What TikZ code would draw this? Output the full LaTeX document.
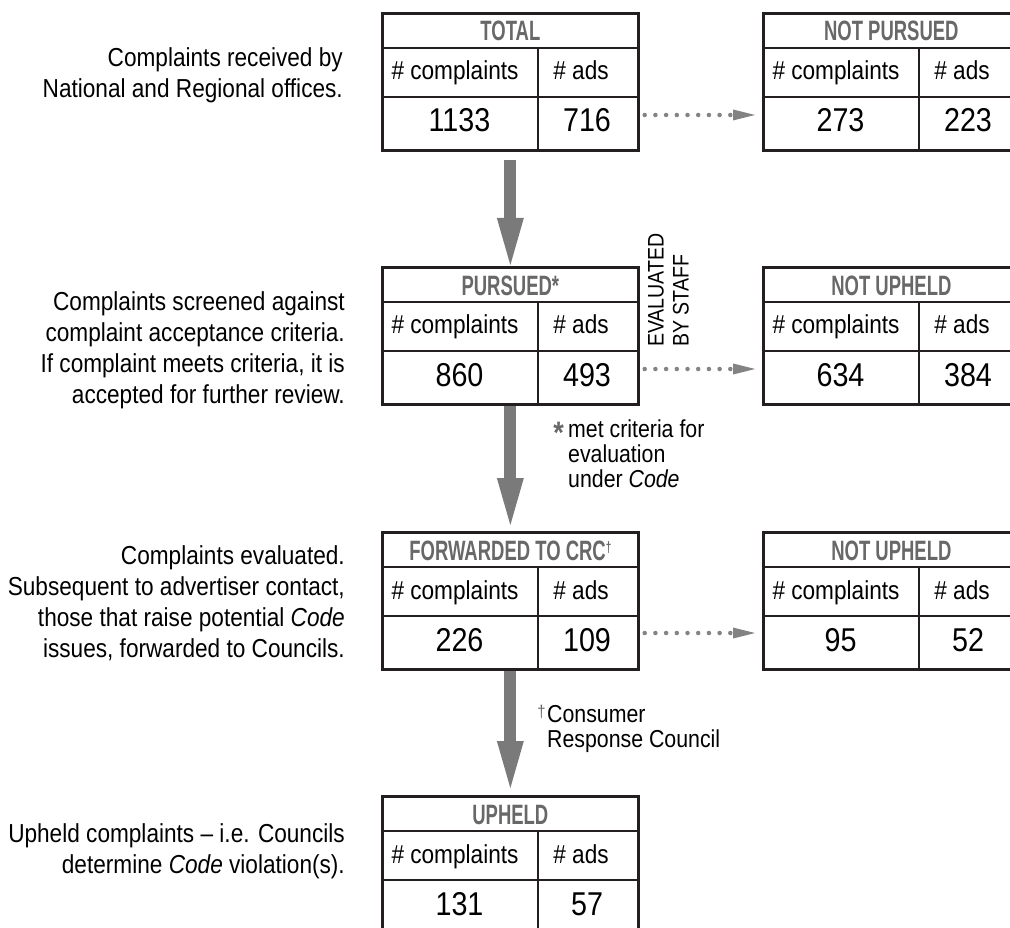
\documentclass[tikz,border=0pt]{standalone}
\usepackage{fontspec}
\setmainfont{Liberation Sans}[FakeStretch=0.87]
\newfontfamily\hdrfont{Liberation Sans}[FakeStretch=0.66]
\usetikzlibrary{arrows.meta}
\definecolor{boxline}{HTML}{231F20}
\definecolor{hdrgray}{HTML}{686868}
\definecolor{arrgray}{HTML}{7A7A7A}
\definecolor{dotgray}{HTML}{838383}
\tikzset{
  tablebox/.style={draw=boxline, line width=2.7pt, minimum width=256pt, minimum height=137pt, inner sep=0pt, anchor=north west},
  tableline/.style={draw=boxline, line width=2.7pt},
  hdr/.style={font=\hdrfont\bfseries\fontsize{28}{28}\selectfont, text=hdrgray, anchor=base, inner sep=0pt},
  lbl/.style={font=\fontsize{26}{26}\selectfont, anchor=base, inner sep=0pt},
  num/.style={font=\fontsize{33}{33}\selectfont, anchor=base, inner sep=0pt},
  bigarrow/.style={draw=arrgray, line width=12pt, -{Triangle[length=47pt, width=27pt, line width=0pt]}},
  dotarrow/.style={draw=dotgray, line width=4.5pt, line cap=round, dash pattern=on 0pt off 10.7pt, shorten <=5pt, shorten >=7pt, -{Triangle[length=22pt, width=11pt, line width=0pt]}},
  sidetext/.style={font=\fontsize{26}{31}\selectfont, align=right, anchor=north east, inner sep=0pt},
  fntext/.style={font=\fontsize{24.5}{25}\selectfont, align=left, anchor=north west, inner sep=0pt},
  fnmark/.style={text=hdrgray, anchor=base, inner sep=0pt},
  vtext/.style={font=\fontsize{22.5}{25}\selectfont, align=left, rotate=90, anchor=north west, inner sep=0pt}
}
\newcommand\flowtable[6]{%
  \node[tablebox] (#1) at (#2,#3) {};
  \draw[tableline] ([yshift=-36pt]#1.north west) -- ([yshift=-36pt]#1.north east);
  \draw[tableline] ([yshift=-85pt]#1.north west) -- ([yshift=-85pt]#1.north east);
  \draw[tableline] ([xshift=157pt,yshift=-36pt]#1.north west) -- ([xshift=157pt]#1.south west);
  \node[hdr] (#1-h) at ([yshift=-29pt]#1.north) {#4};
  \node[lbl] (#1-l1) at ([xshift=74pt,yshift=-68pt]#1.north west) {\# complaints};
  \node[lbl] (#1-l2) at ([xshift=200pt,yshift=-68pt]#1.north west) {\# ads};
  \node[num] (#1-n1) at ([xshift=78.5pt,yshift=-120pt]#1.north west) {#5};
  \node[num] (#1-n2) at ([xshift=206pt,yshift=-120pt]#1.north west) {#6};
}
\begin{document}
\begin{tikzpicture}[x=1pt,y=-1pt]
\useasboundingbox (0,0) rectangle (1010,928);
\clip (0,0) rectangle (1010,928);
\fill[white] (0,0) rectangle (1010,928);

\flowtable{t1}{381}{12}{TOTAL}{1133}{716}
\flowtable{r1}{762}{12}{NOT PURSUED}{273}{223}
\flowtable{t2}{381}{266}{PURSUED*}{860}{493}
\flowtable{r2}{762}{266}{NOT UPHELD}{634}{384}
\flowtable{t3}{381}{531}{FORWARDED TO CRC\raisebox{8pt}{\fontsize{15}{15}\selectfont\textdagger}}{226}{109}
\flowtable{r3}{762}{531}{NOT UPHELD}{95}{52}
\flowtable{t4}{381}{795}{UPHELD}{131}{57}

\draw[bigarrow, shorten <=8pt, shorten >=1pt] (t1.south) -- (t2.north);
\draw[bigarrow, shorten >=6pt] (t2.south) -- (t3.north);
\draw[bigarrow, shorten >=7pt] (t3.south) -- (t4.north);

\draw[dotarrow] ([yshift=-103pt]t1.north east) -- ([yshift=-103pt]r1.north west);
\draw[dotarrow] ([yshift=-103pt]t2.north east) -- ([yshift=-103pt]r2.north west);
\draw[dotarrow] ([yshift=-102pt]t3.north east) -- ([yshift=-102pt]r3.north west);

\node[sidetext] (s1) at (343,47) {Complaints received by\\National and Regional offices.};
\node[sidetext] (s2) at (345,291) {Complaints screened against\\complaint acceptance criteria.\\If complaint meets criteria, it is\\accepted for further review.};
\node[sidetext] (s3) at (345,545.5) {Complaints evaluated.\\Subsequent to advertiser contact,\\those that raise potential \textit{Code}\\issues, forwarded to Councils.};
\node[sidetext] (s4) at (345,823.5) {Upheld complaints -- i.e. Councils\\determine \textit{Code} violation(s).};

\node[vtext] (ev) at (648,347) {EVALUATED\\BY STAFF};

\node[fnmark, font=\bfseries\fontsize{31}{31}\selectfont] (ast) at (558.5,443) {*};
\node[fntext] (fn1) at (568,420) {met criteria for\\evaluation\\under \textit{Code}};
\node[fnmark, font=\fontsize{17}{17}\selectfont] (dag) at (541.5,717) {\textdagger};
\node[fntext] (fn2) at (547,705) {Consumer\\Response Council};
\end{tikzpicture}
\end{document}
